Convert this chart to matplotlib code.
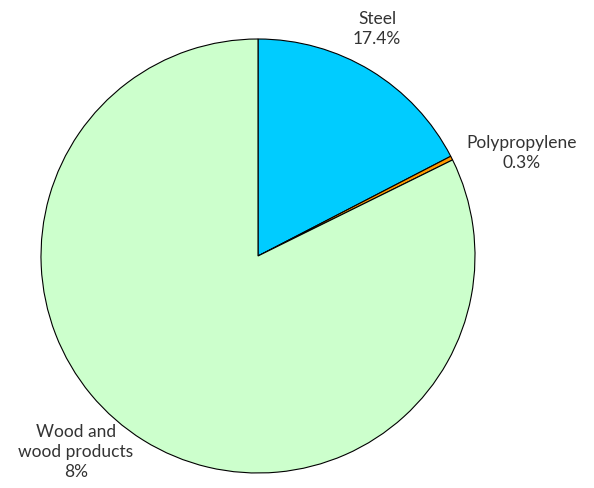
import matplotlib
matplotlib.use('Agg')
import matplotlib.pyplot as plt

# data
materials = ['Steel', 'Polypropylene', 'Wood and\nwood products']
shares = [17.4, 0.3, 82.3]
share_labels = ['17.4%', '0.3%', '8%']
colors = ['#00CCFF', '#FF9900', '#CCFFCC']

plt.rcParams['font.family'] = ['Lato', 'DejaVu Sans']

fig = plt.figure(figsize=(5.94, 4.88), dpi=100)
ax = fig.add_axes([0, 0, 1, 1])

ax.pie(shares, colors=colors, startangle=90, counterclock=False,
       radius=1.0, wedgeprops=dict(edgecolor='black', linewidth=0.8))

# pie centre at (258, 256) px, radius 217 px
ax.set_xlim(-258 / 217, (594 - 258) / 217)
ax.set_ylim((256 - 488) / 217, 256 / 217)
ax.set_aspect('auto')
ax.axis('off')

# label positions in pixels (centre of text block)
label_px = [(377, 29), (522, 153), (76, 452)]
for name, pct, (px, py) in zip(materials, share_labels, label_px):
    ax.text((px - 258) / 217, (256 - py) / 217, name + '\n' + pct,
            ha='center', va='center', fontsize=12.5, fontweight='normal',
            color='#333333', linespacing=1.3)

fig.savefig('out.png', dpi=100)
